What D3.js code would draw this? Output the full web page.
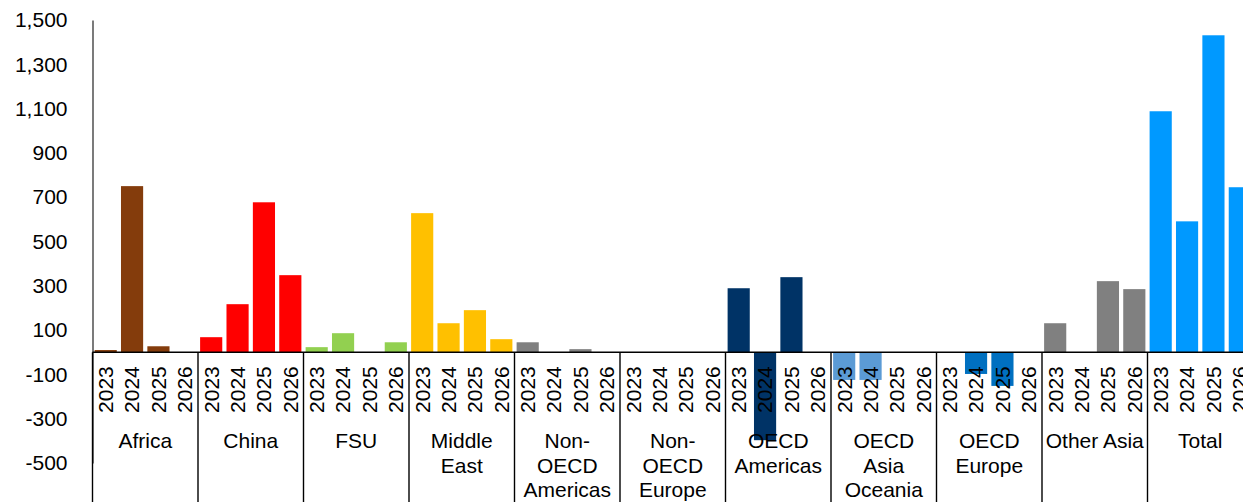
<!DOCTYPE html>
<html>
<head>
<meta charset="utf-8">
<script src="https://cdn.jsdelivr.net/npm/d3@7"></script>
<style>
  html, body { margin: 0; padding: 0; background: #fff; overflow: hidden; }
  svg { display: block; font-family: "Liberation Sans", Arial, sans-serif; }
</style>
</head>
<body>
<svg id="chart" width="1243" height="502"></svg>
<script>
const categories = [
  ["Africa"], ["China"], ["FSU"], ["Middle", "East"], ["Non-", "OECD", "Americas"],
  ["Non-", "OECD", "Europe"], ["OECD", "Americas"], ["OECD", "Asia", "Oceania"],
  ["OECD", "Europe"], ["Other Asia"], ["Total"]
];
const years = ["2023", "2024", "2025", "2026"];
const v2023 = [10, 68, 23, 628, 45, 0, 289, -125, 0, 131, 1088];
const v2024 = [750, 217, 86, 131, 0, 0, -397, -125, -98, 0, 591];
const v2025 = [27, 677, 0, 190, 14, 0, 339, 0, -152, 321, 1431];
const v2026 = [0, 348, 45, 59, 0, 0, 0, 0, 0, 285, 745];
const colors = ["#843C0C", "#FF0000", "#92D050", "#FFC000", "#808080", "#808080",
                "#003366", "#5B9BD5", "#0070C0", "#808080", "#0099FF"];
const yTicks = [-500, -300, -100, 100, 300, 500, 700, 900, 1100, 1300, 1500];

(function () {
const series = [v2023, v2024, v2025, v2026];
const rows = [];
categories.forEach((c, ci) => {
  years.forEach((yr, yi) => {
    rows.push({ key: ci + "-" + yr, ci, year: yr, value: series[yi][ci] });
  });
});

const svg = d3.select("#chart");
const mLeft = 92.5, mRight = 1253, mTop = 20, mBottom = 463;
const fontSize = 21;

const y = d3.scaleLinear().domain([-500, 1500]).range([mBottom, mTop]);
const xGroup = d3.scaleBand().domain(categories.map((c, i) => i)).range([mLeft, mRight]);
const xBar = d3.scaleBand().domain(rows.map(r => r.key)).range([mLeft, mRight])
  .paddingInner(0.16).paddingOuter(0.08);

// bars
svg.append("g").selectAll("rect").data(rows).join("rect")
  .attr("x", d => xBar(d.key))
  .attr("width", xBar.bandwidth())
  .attr("y", d => y(Math.max(0, d.value)))
  .attr("height", d => Math.abs(y(d.value) - y(0)))
  .attr("fill", d => colors[d.ci]);

// y axis
const locale = d3.formatLocale({ decimal: ".", thousands: ",", grouping: [3], currency: ["", ""], minus: "-" });
const yAxis = d3.axisLeft(y).tickValues(yTicks).tickFormat(locale.format(","))
  .tickSize(0).tickPadding(25);
const gy = svg.append("g").attr("transform", `translate(${mLeft},0)`).call(yAxis);
gy.select(".domain").attr("stroke", "#222").attr("stroke-width", 1.2);
gy.selectAll("text").attr("font-size", fontSize).attr("fill", "#000")
  .attr("font-family", "Liberation Sans, Arial, sans-serif");

// zero line
const y0 = y(0);
svg.append("line").attr("x1", mLeft).attr("x2", mRight).attr("y1", y0).attr("y2", y0)
  .attr("stroke", "#000").attr("stroke-width", 1.6);

// group separators
const seps = categories.map((c, i) => xGroup(i)).concat([mRight]);
svg.append("g").selectAll("line").data(seps).join("line")
  .attr("x1", d => d).attr("x2", d => d)
  .attr("y1", y0).attr("y2", 502)
  .attr("stroke", "#000").attr("stroke-width", 1.4);

// year labels
svg.append("g").selectAll("text").data(rows).join("text")
  .attr("transform", d => `translate(${xBar(d.key) + xBar.bandwidth() / 2},${y0 + 14}) rotate(-90)`)
  .attr("text-anchor", "end")
  .attr("dy", "0.35em")
  .attr("font-size", fontSize)
  .attr("fill", "#000")
  .text(d => d.year);

// category labels
const cat = svg.append("g").selectAll("text").data(categories).join("text")
  .attr("text-anchor", "middle")
  .attr("font-size", fontSize)
  .attr("fill", "#000")
  .attr("x", (d, i) => xGroup(i) + xGroup.bandwidth() / 2)
  .attr("y", 441);
cat.selectAll("tspan").data(d => d).join("tspan")
  .attr("x", function () { return d3.select(this.parentNode).attr("x"); })
  .attr("y", (d, i) => 441 + i * 24.5)
  .attr("dy", "0.35em")
  .text(d => d);
})();
</script>
</body>
</html>
